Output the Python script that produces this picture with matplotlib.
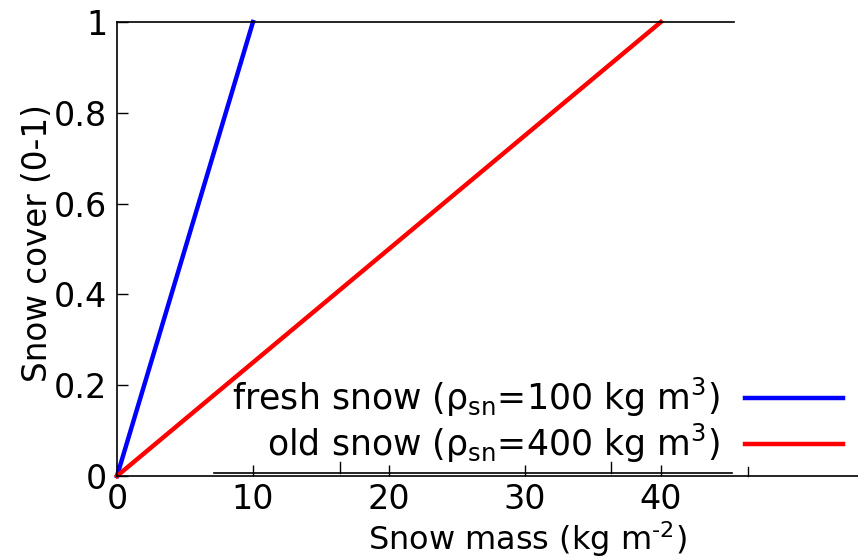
import numpy as np
import matplotlib.pyplot as plt

plt.rcParams['font.family'] = ['DejaVu Sans']
plt.rcParams['mathtext.fontset'] = 'dejavusans'

# snow mass (kg m-2) and resulting snow cover fraction
fresh_mass = [0, 10]
fresh_cover = [0, 1]
old_mass = [0, 40]
old_cover = [0, 1]

labels = [r'fresh snow (ρ$_{\mathrm{sn}}$=100 kg m$^3$)',
          r'old snow (ρ$_{\mathrm{sn}}$=400 kg m$^3$)']
xticks = [0, 10, 20, 30, 40]
yticks = [0, 0.2, 0.4, 0.6, 0.8, 1]
yticklabels = ['0', '0.2', '0.4', '0.6', '0.8', '1']

fig = plt.figure(figsize=(8.58, 5.6), dpi=100)
ax = fig.add_axes([117 / 858, 1 - 476 / 560, 1 - 117 / 858, (476 - 22) / 560])

ax.plot(fresh_mass, fresh_cover, color='#0000ff', lw=3.2, label=labels[0], clip_on=False)
ax.plot(old_mass, old_cover, color='#ff0000', lw=3.2, label=labels[1], clip_on=False)

ax.set_xlim(0, 54.5)
ax.set_ylim(0, 1)
ax.set_xticks(xticks)
ax.set_yticks(yticks)
ax.set_yticklabels(yticklabels)
ax.tick_params(direction='in', length=8, width=1, labelsize=24, pad=7)
ax.tick_params(axis='x', pad=5)

ax.spines['right'].set_visible(False)
ax.spines['top'].set_bounds(0, 45.4)
for s in ax.spines.values():
    s.set_linewidth(1.2)

# overlapping baseline from the key region
ax.plot([7.1, 45.2], [0.007, 0.007], color='black', lw=1.2, clip_on=False)
for xt in [16.4, 36.3]:
    ax.plot([xt, xt], [0.007, 0.03], color='black', lw=1, clip_on=False)
ax.plot([46.4, 46.4], [0, 0.02], color='black', lw=1, clip_on=False)

ax.legend(loc='lower right', bbox_to_anchor=(1.008, -0.021), frameon=False,
          markerfirst=False, fontsize=25, handlelength=2.82, handletextpad=0.72,
          labelspacing=0.08, borderaxespad=0.2)

fig.text(38 / 858, 1 - 243 / 560, 'Snow cover (0-1)', rotation=90,
         ha='center', va='center', fontsize=23.5)
fig.text(527 / 858, 1 - 539 / 560, r'Snow mass (kg m$^{\text{-}2}$)',
         ha='center', va='center', fontsize=23)

fig.savefig('out.png', dpi=100)
